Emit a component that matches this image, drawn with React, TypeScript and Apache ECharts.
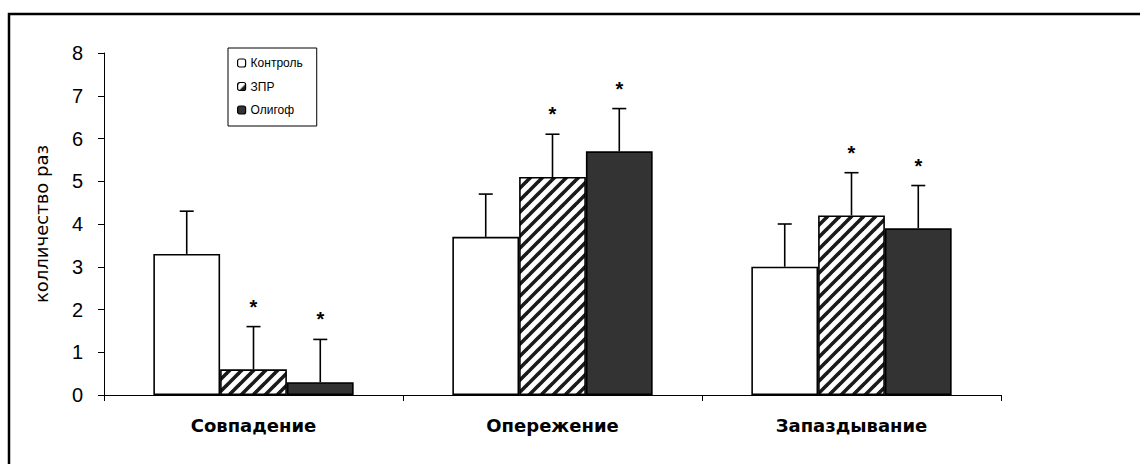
import React, { useEffect, useRef } from "react";
import * as echarts from "echarts";

const categories = ["Совпадение", "Опережение", "Запаздывание"];
const seriesNames = ["Контроль", "ЗПР", "Олигоф"];
const controlValues = [3.3, 3.7, 3.0];
const zprValues = [0.6, 5.1, 4.2];
const oligofValues = [0.3, 5.7, 3.9];
const controlErrors = [1.0, 1.0, 1.0];
const zprErrors = [1.0, 1.0, 1.0];
const oligofErrors = [1.0, 1.0, 1.0];
const controlSignificant = [false, false, false];
const zprSignificant = [true, true, true];
const oligofSignificant = [true, true, true];
const yAxisTitle = "колличество раз";
const yMin = 0;
const yMax = 8;
const yInterval = 1;

const CATEGORY_GAP = 0.33;
const FONT = "'Liberation Sans', Arial, sans-serif";
const WIDE_FONT = "'DejaVu Sans', sans-serif";

function makeHatch(): HTMLCanvasElement {
  const s = 12;
  const c = document.createElement("canvas");
  c.width = s;
  c.height = s;
  const ctx = c.getContext("2d")!;
  ctx.fillStyle = "#ffffff";
  ctx.fillRect(0, 0, s, s);
  ctx.strokeStyle = "#1a1a1a";
  ctx.lineWidth = 3.6;
  for (let k = -1; k <= 1; k++) {
    ctx.beginPath();
    ctx.moveTo(k * s - 2, s + 2);
    ctx.lineTo(k * s + s + 2, -2);
    ctx.stroke();
  }
  return c;
}

export default function App() {
  const ref = useRef<HTMLDivElement>(null);

  useEffect(() => {
    if (!ref.current) return;
    const chart = echarts.init(ref.current, null, { renderer: "svg" });

    const values = [controlValues, zprValues, oligofValues];
    const errors = [controlErrors, zprErrors, oligofErrors];
    const sigs = [controlSignificant, zprSignificant, oligofSignificant];

    const errData: any[] = [];
    for (let s = 0; s < 3; s++) {
      for (let c = 0; c < categories.length; c++) {
        errData.push([c, values[s][c], errors[s][c], s, sigs[s][c] ? 1 : 0]);
      }
    }

    const hatch = makeHatch();
    const fills: any[] = [
      { color: "#ffffff" },
      {
        color: {
          image: hatch,
          repeat: "repeat",
          imageWidth: hatch.width,
          imageHeight: hatch.height,
        },
      },
      { color: "#333333" },
    ];

    const barSeries = seriesNames.map((name, i) => ({
      name,
      type: "bar",
      data: values[i],
      barGap: "0%",
      barCategoryGap: CATEGORY_GAP * 100 + "%",
      itemStyle: { ...fills[i], borderColor: "#000", borderWidth: 1.6 },
      z: 2,
    }));

    const option: any = {
      animation: false,
      backgroundColor: "#ffffff",
      textStyle: { fontFamily: FONT },
      graphic: [
        {
          type: "rect",
          shape: { x: 9, y: 14, width: 1300, height: 600 },
          style: { fill: "none", stroke: "#000", lineWidth: 2.5 },
          silent: true,
          z: -10,
        },
      ],
      grid: { left: 104, right: 139, top: 53, bottom: 69 },
      legend: {
        orient: "vertical",
        left: 228,
        top: 48,
        data: seriesNames,
        itemWidth: 8,
        itemHeight: 8,
        itemGap: 11.5,
        padding: [9, 14, 10, 9],
        borderColor: "#000",
        borderWidth: 1,
        itemStyle: { borderColor: "#000", borderWidth: 1.2 },
        textStyle: { fontSize: 12, color: "#000", fontFamily: FONT },
        selectedMode: false,
      },
      xAxis: {
        type: "category",
        data: categories,
        axisLine: { lineStyle: { color: "#000", width: 1 } },
        axisTick: { show: true, length: 6, lineStyle: { color: "#000" } },
        axisLabel: {
          color: "#000",
          fontSize: 18,
          fontWeight: "bold",
          margin: 21,
          fontFamily: WIDE_FONT,
        },
      },
      yAxis: {
        type: "value",
        min: yMin,
        max: yMax,
        interval: yInterval,
        name: yAxisTitle,
        nameLocation: "middle",
        nameRotate: 90,
        nameGap: 54,
        nameTextStyle: { fontSize: 18, color: "#000", fontFamily: WIDE_FONT },
        axisLine: { show: true, lineStyle: { color: "#000", width: 1 } },
        axisTick: { show: true, length: 6, lineStyle: { color: "#000" } },
        splitLine: { show: false },
        axisLabel: { color: "#000", fontSize: 20, margin: 21, fontFamily: FONT },
      },
      series: [
        ...barSeries,
        {
          type: "custom",
          name: "errors",
          data: errData,
          z: 5,
          encode: { x: 0, y: 1 },
          renderItem: (params: any, api: any) => {
            const ci = api.value(0);
            const v = api.value(1);
            const e = api.value(2);
            const si = api.value(3);
            const sig = api.value(4);
            const base = api.coord([ci, v]);
            const top = api.coord([ci, v + e]);
            const band = api.size([1, 0])[0];
            const bw = (band * (1 - CATEGORY_GAP)) / 3;
            const x = base[0] + (si - 1) * bw;
            const children: any[] = [
              {
                type: "line",
                shape: { x1: x, y1: base[1], x2: x, y2: top[1] },
                style: { stroke: "#000", lineWidth: 1.6 },
              },
              {
                type: "line",
                shape: { x1: x - 7, y1: top[1], x2: x + 7, y2: top[1] },
                style: { stroke: "#000", lineWidth: 1.6 },
              },
            ];
            if (sig) {
              children.push({
                type: "text",
                style: {
                  x: x,
                  y: top[1] - 20,
                  text: "*",
                  fill: "#000",
                  font: "bold 20px " + FONT,
                  align: "center",
                  verticalAlign: "middle",
                },
              });
            }
            return { type: "group", children };
          },
        },
      ],
    };

    chart.setOption(option);
    return () => chart.dispose();
  }, []);

  return (
    <div
      ref={ref}
      style={{ position: "fixed", left: 0, top: 0, width: 1140, height: 464 }}
    />
  );
}
